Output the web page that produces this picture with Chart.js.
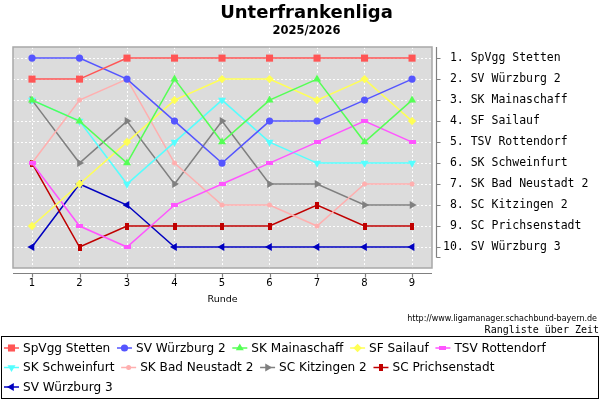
<!DOCTYPE html>
<html>
<head>
<meta charset="utf-8">
<title>Unterfrankenliga 2025/2026</title>
<script src="https://cdn.jsdelivr.net/npm/chart.js@4/dist/chart.umd.min.js"></script>
<style>
  html, body { margin: 0; padding: 0; background: #fff; }
  #wrap { width: 600px; height: 400px; position: relative; }
</style>
</head>
<body>
<div id="wrap"><canvas id="rankChart"></canvas></div>
<script>
/* ── data: table position per round ── */
const ROUNDS = [1, 2, 3, 4, 5, 6, 7, 8, 9];
const RANKS  = [1, 2, 3, 4, 5, 6, 7, 8, 9, 10];

const TEAMS = [
  'SpVgg Stetten', 'SV Würzburg 2', 'SK Mainaschaff', 'SF Sailauf', 'TSV Rottendorf',
  'SK Schweinfurt', 'SK Bad Neustadt 2', 'SC Kitzingen 2', 'SC Prichsenstadt', 'SV Würzburg 3'
];

// right axis: final table
const RANK_LABELS = [
  ' 1. SpVgg Stetten', ' 2. SV Würzburg 2', ' 3. SK Mainaschaff', ' 4. SF Sailauf',
  ' 5. TSV Rottendorf', ' 6. SK Schweinfurt', ' 7. SK Bad Neustadt 2', ' 8. SC Kitzingen 2',
  ' 9. SC Prichsenstadt', '10. SV Würzburg 3'
];

const STETTEN       = [2, 2, 1, 1, 1, 1, 1, 1, 1];
const WUERZBURG2    = [1, 1, 2, 4, 6, 4, 4, 3, 2];
const MAINASCHAFF   = [3, 4, 6, 2, 5, 3, 2, 5, 3];
const SAILAUF       = [9, 7, 5, 3, 2, 2, 3, 2, 4];
const ROTTENDORF    = [6, 9, 10, 8, 7, 6, 5, 4, 5];
const SCHWEINFURT   = [3, 4, 7, 5, 3, 5, 6, 6, 6];
const BADNEUSTADT2  = [6, 3, 2, 6, 8, 8, 9, 7, 7];
const KITZINGEN2    = [3, 6, 4, 7, 4, 7, 7, 8, 8];
const PRICHSENSTADT = [6, 10, 9, 9, 9, 9, 8, 9, 9];
const WUERZBURG3    = [10, 7, 8, 10, 10, 10, 10, 10, 10];

const SERIES = [STETTEN, WUERZBURG2, MAINASCHAFF, SAILAUF, ROTTENDORF,
                SCHWEINFURT, BADNEUSTADT2, KITZINGEN2, PRICHSENSTADT, WUERZBURG3];

/* ── marker styles ── */
function rectImg(w, h, color) {
  const c = document.createElement('canvas');
  c.width = w; c.height = h;
  const g = c.getContext('2d');
  g.fillStyle = color;
  g.fillRect(0, 0, w, h);
  return c;
}

const STYLES = [
  { color: '#ff5555', style: 'rect',     rot: 0,   r: 5 },
  { color: '#5555ff', style: 'circle',   rot: 0,   r: 3.6 },
  { color: '#55ff55', style: 'triangle', rot: 0,   r: 4.6 },
  { color: '#ffff55', style: 'rectRot',  rot: 0,   r: 4.2 },
  { color: '#ff55ff', style: rectImg(7, 4, '#ff55ff'), rot: 0, r: 4 },
  { color: '#55ffff', style: 'triangle', rot: 180, r: 4.6 },
  { color: '#ffafaf', style: 'circle',   rot: 0,   r: 2.5 },
  { color: '#808080', style: 'triangle', rot: 90,  r: 4.6 },
  { color: '#c00000', style: rectImg(4, 7, '#c00000'), rot: 0, r: 4 },
  { color: '#0000c0', style: 'triangle', rot: 270, r: 4.6 },
];

const datasets = TEAMS.map((name, i) => ({
  label: name,
  data: ROUNDS.map((x, j) => ({ x, y: SERIES[i][j] })),
  borderColor: STYLES[i].color,
  backgroundColor: STYLES[i].color,
  borderWidth: 1.5,
  pointStyle: STYLES[i].style,
  rotation: STYLES[i].rot,
  pointRadius: STYLES[i].r,
  pointBackgroundColor: STYLES[i].color,
  pointBorderWidth: 0,
  tension: 0,
  fill: false,
}));

/* ── frame, axes, legend, footer texts ── */
const framePlugin = {
  id: 'frame',
  beforeDraw(chart) {
    const { ctx, chartArea: a } = chart;
    ctx.save();
    ctx.fillStyle = '#fff';
    ctx.fillRect(0, 0, chart.width, chart.height);
    ctx.fillStyle = '#dcdcdc';
    ctx.fillRect(a.left, a.top, a.right - a.left, a.bottom - a.top);
    ctx.restore();
  },
  beforeDatasetsDraw(chart) {
    const { ctx, chartArea: a } = chart;
    ctx.save();
    ctx.strokeStyle = '#a8a8a8';
    ctx.lineWidth = 1.5;
    ctx.strokeRect(a.left, a.top, a.right - a.left, a.bottom - a.top);
    ctx.restore();
  },
  afterDraw(chart) {
    const { ctx, chartArea: a, scales } = chart;
    ctx.save();
    ctx.strokeStyle = '#808080';
    ctx.lineWidth = 1.2;

    // x axis, a little below the plot
    const xy = a.bottom + 5.5;
    ctx.beginPath();
    ctx.moveTo(a.left, xy); ctx.lineTo(a.right, xy);
    ROUNDS.forEach(v => {
      const px = Math.round(scales.x.getPixelForValue(v)) + 0.5;
      ctx.moveTo(px, xy); ctx.lineTo(px, xy + 4);
    });
    ctx.stroke();

    // right axis
    const yx = a.right + 4.5;
    const yEnd = scales.y.getPixelForValue(10.5);
    ctx.beginPath();
    ctx.moveTo(yx, a.top); ctx.lineTo(yx, yEnd);
    ctx.moveTo(yx, yEnd); ctx.lineTo(yx + 4, yEnd);
    RANKS.forEach(v => {
      const py = Math.round(scales.y.getPixelForValue(v)) + 0.5;
      ctx.moveTo(yx, py); ctx.lineTo(yx + 4, py);
    });
    ctx.stroke();

    // footer texts
    ctx.fillStyle = '#000';
    ctx.textAlign = 'right';
    ctx.textBaseline = 'middle';
    ctx.font = '8px "DejaVu Sans"';
    ctx.fillText('http://www.ligamanager.schachbund-bayern.de', 597, 319);
    ctx.font = '10px "DejaVu Sans Mono"';
    ctx.fillText('Rangliste über Zeit', 599, 330);

    // legend box
    ctx.strokeStyle = '#000';
    ctx.lineWidth = 1;
    ctx.strokeRect(1.5, 336.5, 597, 62);

    ctx.font = '12.1px "DejaVu Sans"';
    ctx.textAlign = 'left';
    let x = 4, row = 0;
    const rowY = r => 348 + r * 19.5;
    chart.data.datasets.forEach(ds => {
      const tw = ctx.measureText(ds.label).width;
      if (x + 19 + tw > 596) { x = 4; row++; }
      const y = rowY(row);
      ctx.strokeStyle = ds.borderColor;
      ctx.lineWidth = 1.5;
      ctx.beginPath();
      ctx.moveTo(x, y); ctx.lineTo(x + 15, y);
      ctx.stroke();
      ctx.fillStyle = ds.borderColor;
      Chart.helpers.drawPoint(ctx, {
        pointStyle: ds.pointStyle, rotation: ds.rotation,
        radius: ds.pointRadius, borderWidth: 0
      }, x + 7.5, y);
      ctx.fillStyle = '#000';
      ctx.fillText(ds.label, x + 19, y + 0.5);
      x += 19 + tw + 6.7;
    });
    ctx.restore();
  }
};

new Chart(document.getElementById('rankChart'), {
  type: 'line',
  data: { datasets },
  plugins: [framePlugin],
  options: {
    responsive: true,
    maintainAspectRatio: false,
    animation: false,
    events: [],
    layout: { padding: { left: 13, top: 0, right: 0, bottom: 0 } },
    plugins: {
      legend: { display: false },
      tooltip: { enabled: false },
      title: {
        display: true,
        text: 'Unterfrankenliga',
        color: '#000',
        font: { family: '"DejaVu Sans"', size: 18, weight: 'bold', lineHeight: 1.2 },
        padding: { top: 2.5, bottom: 0 }
      },
      subtitle: {
        display: true,
        text: '2025/2026',
        color: '#000',
        font: { family: '"DejaVu Sans"', size: 11.5, weight: 'bold', lineHeight: 1.2 },
        padding: { top: 0, bottom: 9.1 }
      }
    },
    scales: {
      x: {
        type: 'linear',
        min: 0.6, max: 9.42,
        afterBuildTicks: s => { s.ticks = ROUNDS.map(v => ({ value: v })); },
        afterFit: s => { s.height = 132; },
        grid: { color: 'rgba(255,255,255,0.95)', lineWidth: 1, drawTicks: false },
        border: { display: false, dash: [2, 2] },
        ticks: {
          color: '#000', padding: 9, maxRotation: 0,
          font: { family: '"DejaVu Sans"', size: 10 },
          callback: v => String(v)
        },
        title: {
          display: true, text: 'Runde', color: '#000',
          font: { family: '"DejaVu Sans"', size: 9.5 },
          padding: { top: 0, bottom: 95 }
        }
      },
      y: {
        type: 'linear',
        position: 'right',
        reverse: true,
        min: 0.47, max: 11,
        afterBuildTicks: s => { s.ticks = RANKS.map(v => ({ value: v })); },
        afterFit: s => { s.width = 168; },
        grid: { color: 'rgba(255,255,255,0.95)', lineWidth: 1, drawTicks: false },
        border: { display: false, dash: [2, 2] },
        ticks: {
          color: '#000', padding: 11,
          font: { family: '"DejaVu Sans Mono"', size: 11.5 },
          callback: v => RANK_LABELS[v - 1] || ''
        }
      }
    }
  }
});
</script>
</body>
</html>
